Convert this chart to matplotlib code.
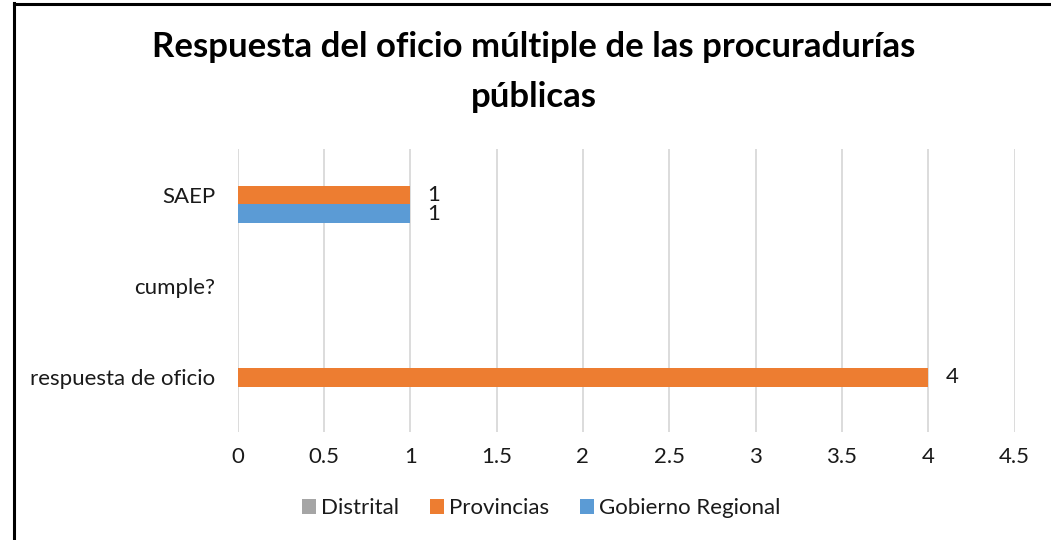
import numpy as np
import matplotlib
matplotlib.use("Agg")
import matplotlib.pyplot as plt
from matplotlib.lines import Line2D
from matplotlib.patches import Patch

categories = ["respuesta de oficio", "cumple?", "SAEP"]
series_names = ["Distrital", "Provincias", "Gobierno Regional"]
distrital = [np.nan, np.nan, np.nan]
provincias = [4, np.nan, 1]
gobierno_regional = [np.nan, np.nan, 1]
x_ticks = [0, 0.5, 1, 1.5, 2, 2.5, 3, 3.5, 4, 4.5]

colors = ["#a5a5a5", "#ed7d31", "#5b9bd5"]
plt.rcParams["font.family"] = ["Lato", "DejaVu Sans"]

fig = plt.figure(figsize=(10.51, 5.4), dpi=100)
ax = fig.add_axes([0.226, 0.2, 0.7393, 0.524])

y = np.arange(len(categories))
h = 0.205
offsets = [h, 0, -h]
for vals, off, col in zip([distrital, provincias, gobierno_regional], offsets, colors):
    vals = np.array(vals, dtype=float)
    ax.barh(y + off, np.nan_to_num(vals), height=h, color=col, zorder=3)
    for yi, v in zip(y, vals):
        if not np.isnan(v):
            ax.text(v + 0.1, yi + off, f"{v:g}", va="center", ha="left",
                    fontsize=16, color="#1a1a1a")

ax.set_xlim(0, 4.5)
ax.set_ylim(-0.6, 2.505)
ax.set_xticks(x_ticks)
ax.set_xticklabels([f"{t:g}" for t in x_ticks])
ax.set_yticks(y)
ax.set_yticklabels(categories)
ax.tick_params(axis="both", length=0, labelsize=16, colors="#1a1a1a")
ax.tick_params(axis="y", pad=16)
ax.tick_params(axis="x", pad=11)
ax.grid(axis="x", color="#d9d9d9", linewidth=1.3, zorder=0)
for s in ax.spines.values():
    s.set_visible(False)

fig.text(534 / 1051, 1 - 47 / 540, "Respuesta del oficio múltiple de las procuradurías",
         ha="center", va="center", fontsize=25, fontweight="bold", color="black")
fig.text(534 / 1051, 1 - 97 / 540, "públicas",
         ha="center", va="center", fontsize=25, fontweight="bold", color="black")

handles = [Patch(facecolor=c, edgecolor="none") for c in colors]
fig.legend(handles, series_names, loc="center", ncol=3,
           bbox_to_anchor=(541 / 1051, 1 - 508 / 540), frameon=False,
           fontsize=16, handlelength=0.65, handleheight=0.65,
           handletextpad=0.2, columnspacing=1.4, labelcolor="#1a1a1a")

# border of the chart box
fig.add_artist(Line2D([14 / 1051, 14 / 1051], [0, 1 - 3 / 540], transform=fig.transFigure,
                      color="black", linewidth=2.2))
fig.add_artist(Line2D([14 / 1051, 1], [1 - 3.5 / 540, 1 - 3.5 / 540], transform=fig.transFigure,
                      color="black", linewidth=2.2))

fig.savefig("out.png", dpi=100)
